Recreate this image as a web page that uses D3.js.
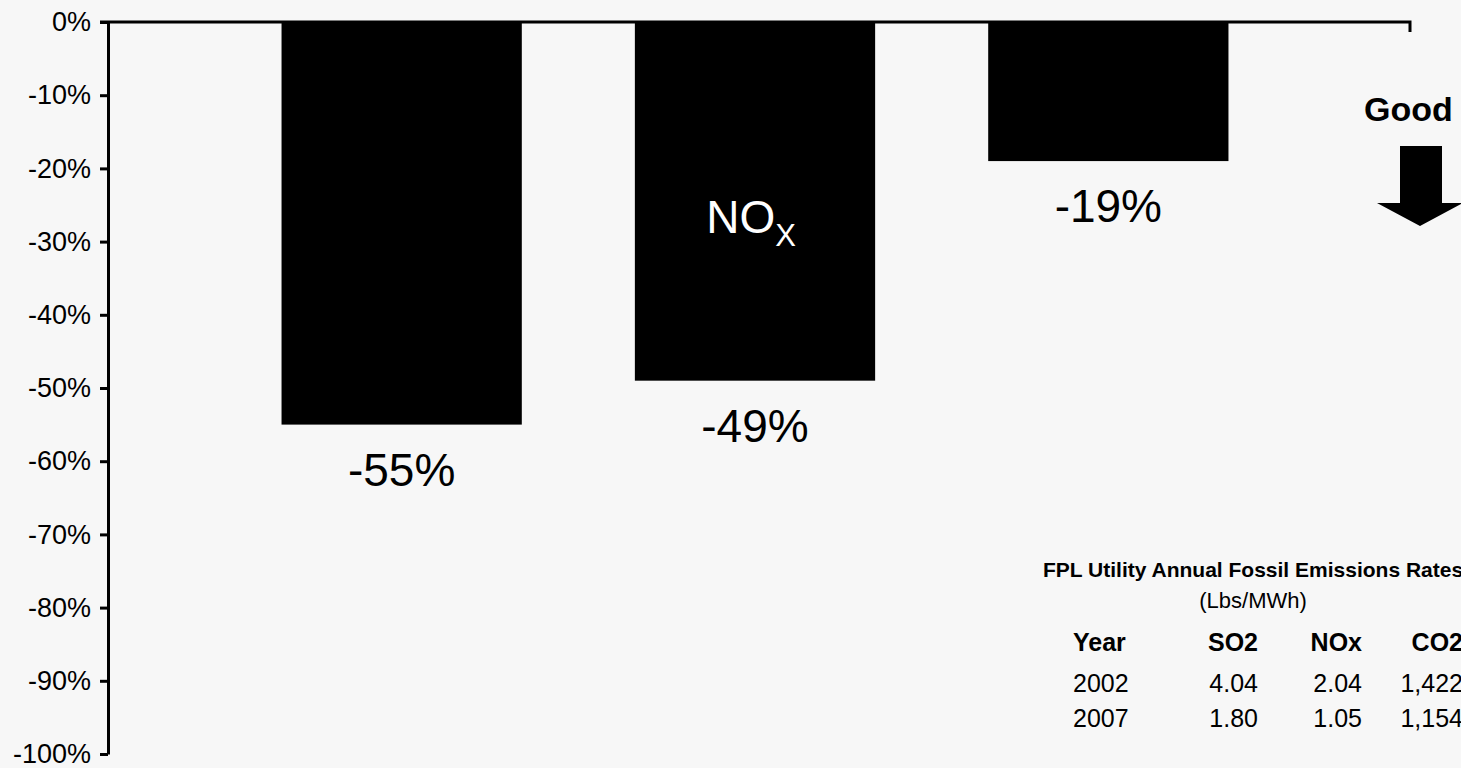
<!DOCTYPE html>
<html>
  <head>
    <meta charset="UTF-8">
    <title>FPL Emissions Rate Reductions 2002-2007</title>
    <script src="https://d3js.org/d3.v7.min.js"></script>
  </head>
  <style>
    html, body {
      margin: 0;
      padding: 0;
      background-color: #f7f7f7;
      overflow: hidden;
    }
    svg text {
      font-family: "Liberation Sans", Arial, Helvetica, sans-serif;
      fill: #000;
    }
    .axis text {
      font-size: 27px;
    }
    .axis path, .axis line {
      stroke: #000;
      stroke-width: 3px;
    }
    text.value-label {
      font-size: 46px;
    }
    text.good {
      font-size: 34px;
      font-weight: bold;
    }
    .table text.title {
      font-size: 21px;
      font-weight: bold;
    }
    .table text.units {
      font-size: 22px;
    }
    .table text.head {
      font-size: 25px;
      font-weight: bold;
    }
    .table text.cell {
      font-size: 25px;
    }
  </style>
  <body>
    <div class="display"></div>
    <script>
// percent change 2002 -> 2007 in emission rates
const pollutants = ['SO2', 'NOx', 'CO2'];
const changes = [-55, -49, -19];
const yTicks = [0, -10, -20, -30, -40, -50, -60, -70, -80, -90, -100];

// table data (Lbs/MWh)
const tableHeaders = ['Year', 'SO2', 'NOx', 'CO2'];
const tableYears = ['2002', '2007'];
const so2Rates = [4.04, 1.80];
const noxRates = [2.04, 1.05];
const co2Rates = [1422, 1154];

const width = 1461, height = 768;

const svg = d3.select('.display')
  .append('svg')
  .attr('width', width)
  .attr('height', height)
  .style('display', 'block');

svg.append('rect')
  .attr('width', width)
  .attr('height', height)
  .attr('fill', '#f7f7f7');

const axisX = 108;
const y = d3.scaleLinear()
  .domain([0, -100])
  .range([22, 754]);

const x = d3.scaleBand()
  .domain(pollutants)
  .range([225, 1285])
  .paddingInner(0.32)
  .paddingOuter(0.16);

// bars
svg.append('g')
  .selectAll('.bar')
  .data(changes)
  .enter()
  .append('rect')
  .attr('class', 'bar')
  .attr('x', (d, i) => x(pollutants[i]))
  .attr('y', y(0))
  .attr('width', x.bandwidth())
  .attr('height', d => y(d) - y(0))
  .attr('fill', '#000');

// value labels under bars
svg.append('g')
  .selectAll('.value-label')
  .data(changes)
  .enter()
  .append('text')
  .attr('class', 'value-label')
  .attr('x', (d, i) => x(pollutants[i]) + x.bandwidth() / 2)
  .attr('y', d => y(d) + 61)
  .attr('text-anchor', 'middle')
  .text(d => d + '%');

// NOx label inside the bar
const noxLabel = svg.append('text')
  .attr('x', x('NOx') + x.bandwidth() / 2 - 4)
  .attr('y', 233)
  .attr('text-anchor', 'middle')
  .style('fill', '#fff')
  .style('font-size', '46px');
noxLabel.append('tspan').text('NO');
noxLabel.append('tspan')
  .attr('dy', 13)
  .style('font-size', '31px')
  .style('fill', '#fff')
  .text('X');

// y axis
const yAxis = d3.axisLeft(y)
  .tickValues(yTicks)
  .tickSize(8)
  .tickSizeOuter(0)
  .tickPadding(9)
  .tickFormat(d => d + '%');

svg.append('g')
  .attr('class', 'axis')
  .attr('transform', `translate(${axisX}, 0)`)
  .call(yAxis);

// top baseline at 0%
svg.append('path')
  .attr('d', `M${axisX - 8},${y(0)}H1410V${y(0) + 10}`)
  .attr('fill', 'none')
  .attr('stroke', '#000')
  .attr('stroke-width', 3);

// "Good" arrow
svg.append('text')
  .attr('class', 'good')
  .attr('x', 1364)
  .attr('y', 121)
  .text('Good');

svg.append('path')
  .attr('d', 'M1400,146H1442V203H1463L1420,226L1377,203H1400Z')
  .attr('fill', '#000');

// emissions table
const table = svg.append('g').attr('class', 'table');
table.append('text')
  .attr('class', 'title')
  .attr('x', 1043)
  .attr('y', 577)
  .text('FPL Utility Annual Fossil Emissions Rates');
table.append('text')
  .attr('class', 'units')
  .attr('x', 1253)
  .attr('y', 608)
  .attr('text-anchor', 'middle')
  .text('(Lbs/MWh)');

const colX = [1073, 1258, 1362, 1463];
const colAnchor = ['start', 'end', 'end', 'end'];

table.selectAll('.head')
  .data(tableHeaders)
  .enter()
  .append('text')
  .attr('class', 'head')
  .attr('x', (d, i) => colX[i])
  .attr('y', 651)
  .attr('text-anchor', (d, i) => colAnchor[i])
  .text(d => d);

const rows = tableYears.map((yr, i) => [yr, so2Rates[i].toFixed(2), noxRates[i].toFixed(2), d3.format(',')(co2Rates[i])]);
const rowY = d3.scalePoint().domain(tableYears).range([692, 727]);

rows.forEach(row => {
  table.selectAll(null)
    .data(row)
    .enter()
    .append('text')
    .attr('class', 'cell')
    .attr('x', (d, i) => colX[i])
    .attr('y', rowY(row[0]))
    .attr('text-anchor', (d, i) => colAnchor[i])
    .text(d => d);
});
    </script>
  </body>
</html>
